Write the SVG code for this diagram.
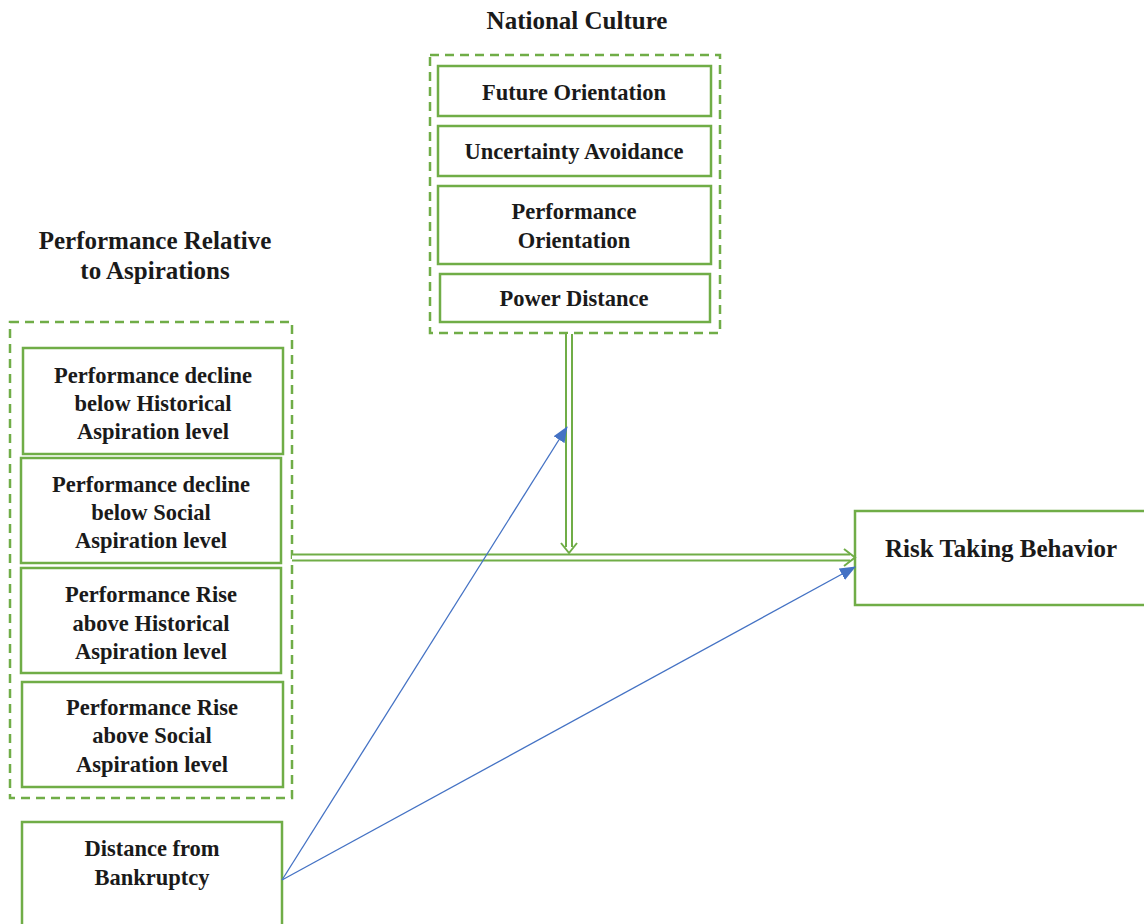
<svg xmlns="http://www.w3.org/2000/svg" width="1144" height="924" viewBox="0 0 1144 924">
<style>
.box{fill:#fff;stroke:#70AD47;stroke-width:2.5}
.dash{fill:none;stroke:#70AD47;stroke-width:2.5;stroke-dasharray:9 6}
text{font-family:"Liberation Serif","Times New Roman",serif;font-weight:bold;font-size:22.5px;fill:#1a1a1a;text-anchor:middle}
.big{font-size:25px}
.dblo{fill:none;stroke:#70AD47;stroke-width:8}
.dbli{fill:none;stroke:#fff;stroke-width:4}
.blue{stroke:#4472C4;stroke-width:1.3;fill:none}
</style>
<defs>
<marker id="ba" markerWidth="16" markerHeight="13" refX="15" refY="6.5" orient="auto" markerUnits="userSpaceOnUse">
<path d="M0,0 L16,6.5 L0,13 Z" fill="#4472C4"/>
</marker>
</defs>
<rect width="1144" height="924" fill="#fff"/>

<g id="national-culture">
<text class="big" x="577" y="29">National Culture</text>
<rect class="dash" x="430" y="55" width="290" height="278"/>
<g id="future-orientation"><rect class="box" x="438" y="66" width="273" height="50"/><text x="574" y="100">Future Orientation</text></g>
<g id="uncertainty-avoidance"><rect class="box" x="438" y="126" width="273" height="50"/><text x="574" y="159">Uncertainty Avoidance</text></g>
<g id="performance-orientation"><rect class="box" x="438" y="186" width="273" height="78"/><text x="574" y="219">Performance</text><text x="574" y="248">Orientation</text></g>
<g id="power-distance"><rect class="box" x="440" y="274" width="270" height="48"/><text x="574" y="306">Power Distance</text></g>
</g>

<g id="performance-relative">
<text class="big" x="155" y="249">Performance Relative</text>
<text class="big" x="155" y="279">to Aspirations</text>
<rect class="dash" x="10" y="322" width="282" height="476"/>
<g id="decline-historical"><rect class="box" x="23" y="348" width="260" height="106"/><text x="153" y="383">Performance decline</text><text x="153" y="411">below Historical</text><text x="153" y="439">Aspiration level</text></g>
<g id="decline-social"><rect class="box" x="21" y="458" width="260" height="105"/><text x="151" y="492">Performance decline</text><text x="151" y="520">below Social</text><text x="151" y="548">Aspiration level</text></g>
<g id="rise-historical"><rect class="box" x="21" y="568" width="260" height="105"/><text x="151" y="602">Performance Rise</text><text x="151" y="631">above Historical</text><text x="151" y="659">Aspiration level</text></g>
<g id="rise-social"><rect class="box" x="22" y="682" width="261" height="105"/><text x="152" y="715">Performance Rise</text><text x="152" y="743">above Social</text><text x="152" y="772">Aspiration level</text></g>
</g>

<g id="distance-bankruptcy"><rect class="box" x="22" y="822" width="260" height="110"/><text x="152" y="856">Distance from</text><text x="152" y="885">Bankruptcy</text></g>

<g id="risk-taking"><rect class="box" x="855" y="511" width="295" height="94"/><text class="big" x="1001" y="557">Risk Taking Behavior</text></g>

<g id="connectors">
<path class="dblo" d="M292,557.5 H850"/>
<path class="dbli" d="M292,557.5 H852"/>
<path d="M844,549 L855,557.5 L844,566" fill="none" stroke="#70AD47" stroke-width="2"/>
<path class="dblo" d="M569,334 V547"/>
<path class="dbli" d="M569,334 V549"/>
<path d="M561,543 L569,553 L577,543" fill="none" stroke="#70AD47" stroke-width="2"/>
<line class="blue" x1="282" y1="880" x2="567" y2="427" marker-end="url(#ba)"/>
<line class="blue" x1="282" y1="880" x2="855" y2="567" marker-end="url(#ba)"/>
</g>
</svg>
